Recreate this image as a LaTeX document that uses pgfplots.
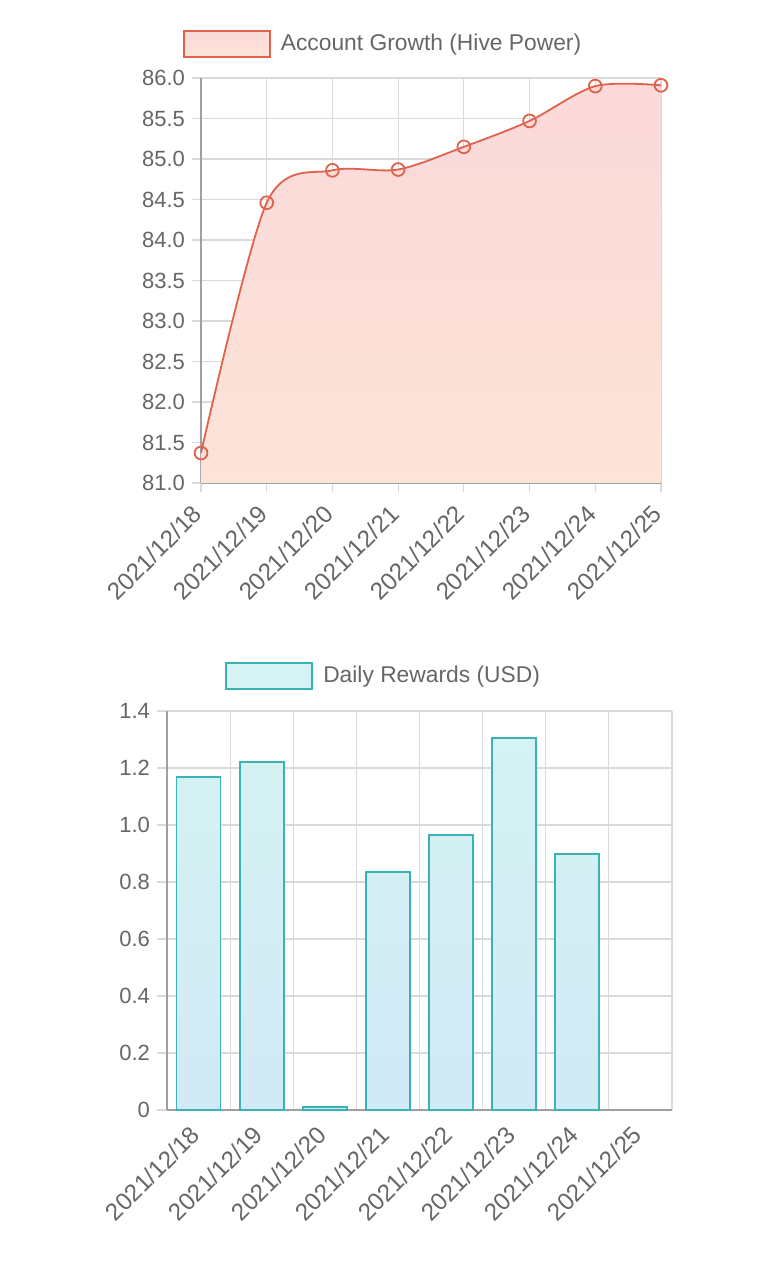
\documentclass[border=0pt]{standalone}
\usepackage{fontspec}
\setmainfont{Liberation Sans}
\usepackage{pgfplots}
\pgfplotsset{compat=1.18}
\definecolor{txt}{RGB}{102,102,102}
\definecolor{gridc}{RGB}{218,218,218}
\definecolor{axgray}{RGB}{160,160,160}
\definecolor{redline}{RGB}{224,98,76}
\definecolor{redtop}{RGB}{251,217,217}
\definecolor{redbot}{RGB}{252,228,216}
\definecolor{tealtop}{RGB}{212,243,242}
\definecolor{tealbot}{RGB}{210,233,246}
\definecolor{tealedge}{RGB}{58,178,182}
\pgfplotstableread{
x y
0 81.37
1 84.46
2 84.86
3 84.87
4 85.15
5 85.47
6 85.90
7 85.91
}\growth
\pgfplotstableread{
x y
0 1.168
1 1.221
2 0.011
3 0.835
4 0.965
5 1.305
6 0.898
}\rewards
\begin{document}
\begin{tikzpicture}
\path[use as bounding box] (0,0) rectangle (384pt,633pt);
\pgfplotsset{
  every axis/.append style={
    scale only axis,
    font=\fontsize{11}{13}\selectfont,
    tick label style={text=txt},
    /pgf/number format/assume math mode=true,
    axis lines*=left,
    axis line style={draw=axgray, line width=0.6pt},
    grid style={draw=gridc, line width=0.6pt},
    tick style={draw=gridc, line width=0.6pt},
    tick align=outside,
    xticklabel style={rotate=45, anchor=east, inner sep=1pt, font=\fontsize{12.1}{14}\selectfont, yshift=-5pt, xshift=-6.4pt},
    legend style={draw=none, fill=none, text=txt, font=\fontsize{11.4}{13}\selectfont},
    clip=true,
  }
}
% ---------- top chart ----------
\begin{axis}[
  at={(100.5pt,391.5pt)}, anchor=south west,
  width=230pt, height=202.5pt,
  xmin=0, xmax=7, ymin=81, ymax=86,
  xtick={0,1,2,3,4,5,6,7},
  xticklabels={2021/12/18,2021/12/19,2021/12/20,2021/12/21,2021/12/22,2021/12/23,2021/12/24,2021/12/25},
  ytick={81,81.5,82,82.5,83,83.5,84,84.5,85,85.5,86},
  yticklabels={81.0,81.5,82.0,82.5,83.0,83.5,84.0,84.5,85.0,85.5,86.0},
  major tick length=4.5pt,
  xmajorgrids, ymajorgrids,
  legend style={at={(0.398,1.084)}, anchor=center},
  legend image code/.code={\draw[draw=redline, line width=0.9pt, top color=redtop, bottom color=redbot] (0pt,-6.5pt) rectangle (43pt,6.5pt); \path[draw=none,fill=none] (0pt,0pt) -- (46.5pt,0pt);},
]
\addplot[draw=none, top color=redtop, bottom color=redbot, smooth, tension=0.5] table[x=x,y=y] {\growth} -- (axis cs:7,81) -- (axis cs:0,81) -- cycle;
\addlegendentry{Account Growth (Hive Power)}
\addplot[redline, line width=0.9pt, smooth, tension=0.5, mark=o, mark size=3.2pt, mark options={line width=0.9pt, fill=redtop, fill opacity=0.6}, forget plot, clip=false] table[x=x,y=y] {\growth};
\end{axis}
% ---------- bottom chart ----------
\begin{axis}[
  at={(83.5pt,78pt)}, anchor=south west,
  width=252.5pt, height=199.5pt,
  xmin=-0.5, xmax=7.5, ymin=0, ymax=1.4,
  xtick={0,1,2,3,4,5,6,7},
  xticklabels={2021/12/18,2021/12/19,2021/12/20,2021/12/21,2021/12/22,2021/12/23,2021/12/24,2021/12/25},
  minor xtick={-0.5,0.5,1.5,2.5,3.5,4.5,5.5,6.5,7.5},
  xminorgrids, ymajorgrids,
  xtick style={draw=none},
  major tick length=5pt,
  minor tick length=10pt,
  minor tick style={draw=gridc, line width=0.6pt},
  ytick={0,0.2,0.4,0.6,0.8,1.0,1.2,1.4},
  yticklabels={0,0.2,0.4,0.6,0.8,1.0,1.2,1.4},
  xticklabel style={yshift=2.4pt, xshift=2.65pt},
  legend style={at={(0.431,1.088)}, anchor=center},
  legend image code/.code={\draw[draw=tealedge, line width=0.9pt, top color=tealtop, bottom color=tealtop] (0pt,-6.5pt) rectangle (43pt,6.5pt); \path[draw=none,fill=none] (0pt,0pt) -- (46.5pt,0pt);},
]
\addplot[ybar, bar width=22pt, draw=tealedge, line width=0.9pt, top color=tealtop, bottom color=tealbot] table[x=x,y=y] {\rewards};
\addlegendentry{Daily Rewards (USD)}
\end{axis}
\end{tikzpicture}
\end{document}
